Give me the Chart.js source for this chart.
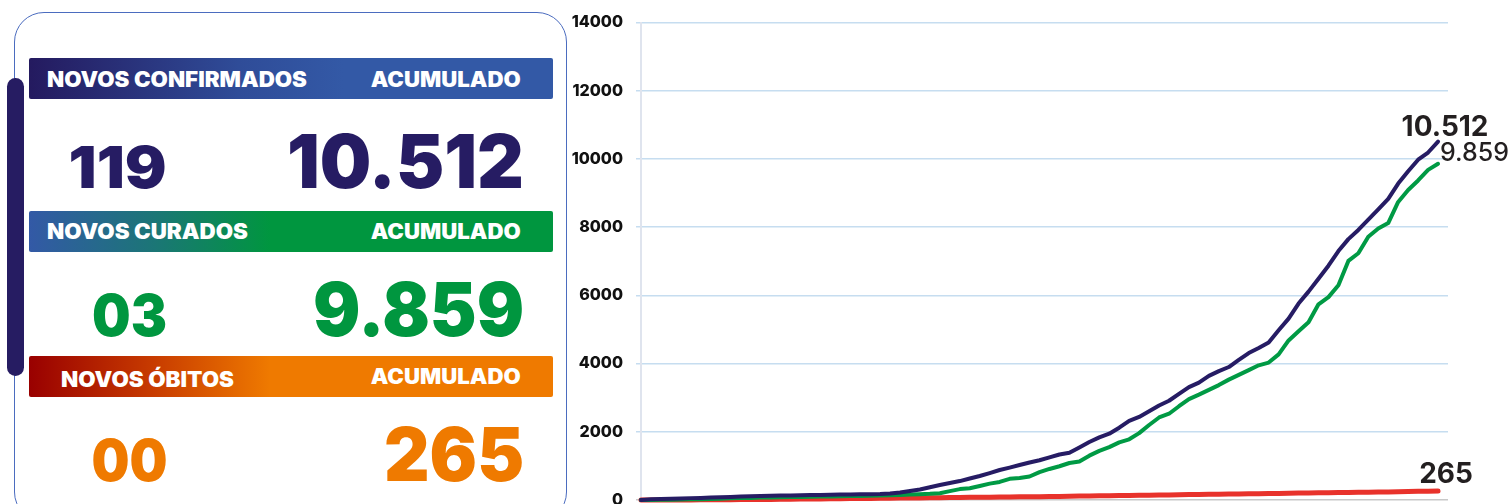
<!DOCTYPE html>
<html>
<head>
<meta charset="utf-8">
<script src="https://cdn.jsdelivr.net/npm/chart.js@4.4.0/dist/chart.umd.min.js"></script>
<style>
  html, body { margin: 0; padding: 0; background: #fff; width: 1510px; height: 504px; overflow: hidden; }
  body { position: relative; font-family: 'Inter', sans-serif; }
  #panel {
    position: absolute; left: 14px; top: 12px; width: 553px; height: 510px;
    border: 1.3px solid #4b6cbf; border-radius: 30px; box-sizing: border-box;
  }
  #bar {
    position: absolute; left: 7px; top: 78px; width: 17px; height: 298px;
    background: #261c62; border-radius: 9px;
  }
  .banner { position: absolute; left: 29px; width: 524px; height: 41px; border-radius: 2px; }
  #b1 { top: 58px; background: linear-gradient(90deg, #241a5f 0%, #2f4c98 40%, #3359a6 60%, #3359a6 100%); }
  #b2 { top: 211px; background: linear-gradient(90deg, #3359a6 0%, #1b7676 24%, #00963f 46%, #00963f 100%); }
  #b3 { top: 356px; background: linear-gradient(90deg, #990000 0%, #c83c00 24%, #ef7a00 46%, #ef7a00 100%); }
  .lbl {
    position: absolute; color: #fff; font-weight: 900; font-size: 21px; line-height: 1;
    white-space: nowrap;
  }
  .l { transform-origin: left center; }
  .r { transform-origin: right center; }
  .num { position: absolute; font-weight: 900; line-height: 1; white-space: nowrap; transform-origin: right center; }
  .small { font-size: 58px; }
  .big { font-size: 74px; }
  .navy { color: #261c63; }
  .green { color: #00963f; }
  .orange { color: #ef7a00; }
  #chartBox { position: absolute; left: 560px; top: 0; width: 950px; height: 530px; }
</style>
</head>
<body>
<div id="panel"></div>
<div id="bar"></div>

<div class="banner" id="b1"></div>
<div class="banner" id="b2"></div>
<div class="banner" id="b3"></div>

<div class="lbl l" data-w="260" style="left:47px; top:69px;">NOVOS CONFIRMADOS</div>
<div class="lbl r" data-w="150" style="right:989px; top:69px;">ACUMULADO</div>
<div class="lbl l" data-w="201" style="left:47px; top:221px;">NOVOS CURADOS</div>
<div class="lbl r" data-w="150" style="right:989px; top:221px;">ACUMULADO</div>
<div class="lbl l" data-w="173" style="left:61px; top:369px;">NOVOS ÓBITOS</div>
<div class="lbl r" data-w="150" style="right:989px; top:366px;">ACUMULADO</div>

<div class="num small navy" id="newConf" data-w="98" style="right:1343px; top:138px;"></div>
<div class="num big navy" id="accConf" data-w="237" style="right:986px; top:124px;"></div>
<div class="num small green" id="newRec" data-w="75" style="right:1343px; top:286px;"></div>
<div class="num big green" id="accRec" data-w="211" style="right:986px; top:272px;"></div>
<div class="num small orange" id="newDeath" data-w="76" style="right:1343px; top:431px;"></div>
<div class="num big orange" id="accDeath" data-w="140" style="right:986px; top:417px;"></div>

<div id="chartBox"><canvas id="chart" width="950" height="530"></canvas></div>

<script>
// daily new numbers shown in the panel
const newConfirmed = '119';
const newRecovered = '03';
const newDeaths = '00';

// cumulative series, one value per day
const confirmed = [
  2, 25, 30, 40, 45, 55, 60, 70, 80, 90,
  100, 110, 120, 125, 130, 135, 140, 145, 150, 155,
  160, 162, 166, 170, 175, 190, 220, 265, 310, 375,
  440, 500, 555, 630, 705, 790, 880, 950, 1025, 1100,
  1165, 1250, 1335, 1385, 1540, 1700, 1835, 1945, 2120, 2320,
  2435, 2600, 2770, 2910, 3110, 3310, 3440, 3640, 3780, 3900,
  4110, 4310, 4460, 4620, 4980, 5320, 5760, 6110, 6490, 6870,
  7300, 7650, 7920, 8220, 8520, 8830, 9280, 9640, 9980, 10190,
  10512
];
const recovered = [
  0, 2, 5, 10, 15, 20, 25, 32, 40, 48,
  55, 62, 70, 75, 80, 85, 90, 95, 100, 105,
  110, 115, 120, 125, 130, 140, 150, 160, 170, 180,
  200, 260, 320, 345, 410, 480, 530, 620, 645, 690,
  815, 910, 990, 1085, 1130, 1300, 1440, 1550, 1690, 1780,
  1960, 2200, 2420, 2530, 2750, 2960, 3090, 3230, 3370, 3530,
  3670, 3810, 3950, 4030, 4270, 4680, 4950, 5210, 5740, 5950,
  6300, 7010, 7235, 7720, 7960, 8120, 8740, 9090, 9370, 9680,
  9859
];
const deaths = [
  0, 0, 0, 1, 2, 3, 4, 5, 7, 9,
  11, 13, 15, 18, 20, 23, 26, 29, 32, 35,
  38, 41, 44, 47, 50, 53, 56, 59, 62, 65,
  68, 71, 74, 77, 80, 83, 86, 89, 92, 95,
  98, 102, 106, 110, 114, 118, 122, 126, 130, 134,
  138, 142, 146, 150, 154, 158, 162, 166, 170, 174,
  178, 182, 186, 190, 194, 198, 202, 206, 210, 214,
  218, 222, 226, 230, 234, 238, 242, 248, 254, 259,
  265
];
// one spare day at the end leaves a gap before the right edge of the grid
const days = [];
for (let i = 0; i <= confirmed.length; i++) days.push('Dia ' + (i + 1));
const yTicks = [0, 2000, 4000, 6000, 8000, 10000, 12000, 14000];

function fmt(n) {
  return String(n).replace(/\B(?=(\d{3})+(?!\d))/g, '.');
}

document.getElementById('newConf').innerText = newConfirmed;
document.getElementById('newRec').innerText = newRecovered;
document.getElementById('newDeath').innerText = newDeaths;
document.getElementById('accConf').innerText = fmt(confirmed[confirmed.length - 1]);
document.getElementById('accRec').innerText = fmt(recovered[recovered.length - 1]);
document.getElementById('accDeath').innerText = fmt(deaths[deaths.length - 1]);

// squeeze / stretch the panel texts to the widths of the original artwork
function fitTexts() {
  document.querySelectorAll('[data-w]').forEach(el => {
    el.style.transform = 'none';
    const w = el.getBoundingClientRect().width;
    el.style.transform = 'scaleX(' + (el.dataset.w / w) + ')';
  });
}
fitTexts();

// last-value labels at the end of each line
const endLabels = {
  id: 'endLabels',
  afterDatasetsDraw(chart) {
    const ctx = chart.ctx;
    const specs = [
      { ds: 0, font: '700 28px Inter', align: 'center', dx: 7, dy: -6 },
      { ds: 1, font: '500 25px Inter', align: 'left', dx: 2, dy: -3 },
      { ds: 2, font: '700 28px Inter', align: 'center', dx: 8, dy: -8 }
    ];
    ctx.save();
    ctx.fillStyle = '#231f20';
    ctx.textBaseline = 'alphabetic';
    specs.forEach(s => {
      const meta = chart.getDatasetMeta(s.ds);
      const pt = meta.data[meta.data.length - 1];
      const data = chart.data.datasets[s.ds].data;
      ctx.font = s.font;
      ctx.textAlign = s.align;
      ctx.fillText(fmt(data[data.length - 1]), pt.x + s.dx, pt.y + s.dy);
    });
    ctx.restore();
  }
};

const ctx = document.getElementById('chart').getContext('2d');
const chart = new Chart(ctx, {
  type: 'line',
  data: {
    labels: days,
    datasets: [
      { label: 'Confirmados', data: confirmed, borderColor: '#261c64', borderWidth: 4 },
      { label: 'Curados', data: recovered, borderColor: '#009a44', borderWidth: 4 },
      { label: 'Óbitos', data: deaths, borderColor: '#e8322b', borderWidth: 5 }
    ]
  },
  options: {
    responsive: false,
    animation: false,
    clip: false,
    elements: { point: { radius: 0 }, line: { tension: 0, borderCapStyle: 'round', borderJoinStyle: 'round' } },
    layout: { padding: { top: 22, right: 62, bottom: 30, left: 0 } },
    plugins: { legend: { display: false }, tooltip: { enabled: false } },
    scales: {
      x: { display: false },
      y: {
        min: yTicks[0],
        max: yTicks[yTicks.length - 1],
        afterBuildTicks: scale => { scale.ticks = yTicks.map(v => ({ value: v })); },
        ticks: {
          color: '#111',
          padding: 13,
          font: { family: 'Inter', weight: '800', size: 16 },
          callback: v => String(v)
        },
        grid: {
          color: c => c.tick && c.tick.value === 0 ? '#c8c8c8' : '#c6ddf0',
          lineWidth: 1.5,
          tickLength: 5
        },
        border: { color: '#dfe4ee', width: 2 },
        afterFit: scale => { scale.width = 81; }
      }
    }
  },
  plugins: [endLabels]
});

if (document.fonts && document.fonts.ready) {
  document.fonts.ready.then(() => { fitTexts(); chart.draw(); });
}
</script>
</body>
</html>
